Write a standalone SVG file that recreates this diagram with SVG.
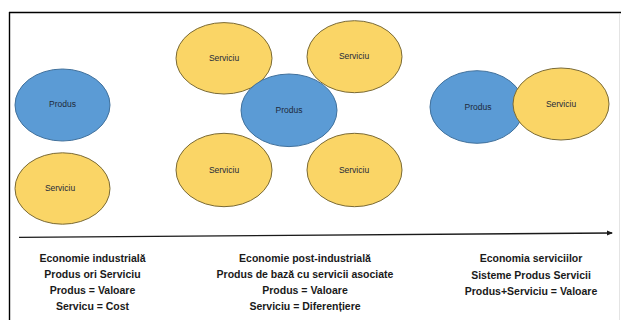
<svg xmlns="http://www.w3.org/2000/svg" width="621" height="320" viewBox="0 0 621 320">
<defs>
<style>
.prod{fill:#5B9BD5;stroke:#41719C;stroke-width:1}
.serv{fill:#FAD566;stroke:#7A6A35;stroke-width:1}
.lbl{font-family:"Liberation Sans",Arial,sans-serif;font-size:8.5px;fill:#1E2A3A;text-anchor:middle}
.cap{font-family:"Liberation Sans",Arial,sans-serif;font-size:10.5px;font-weight:bold;fill:#1a1a1a;text-anchor:middle}
</style>
<marker id="ah" markerWidth="6" markerHeight="6" refX="5" refY="3" orient="auto" markerUnits="userSpaceOnUse">
<path d="M0,0.5 L6,3 L0,5.5 Z" fill="#1a1a1a"/>
</marker>
</defs>
<rect x="0" y="0" width="621" height="320" fill="#ffffff"/>
<g id="frame">
<line x1="9" y1="12.5" x2="621" y2="12.5" stroke="#000" stroke-width="1.6"/>
<line x1="9.5" y1="12" x2="9.5" y2="320" stroke="#000" stroke-width="1.4"/>
<line x1="619.5" y1="14" x2="619.5" y2="320" stroke="#e4e4e4" stroke-width="1"/>
</g>
<g id="connectors">
<line x1="19" y1="237.3" x2="612" y2="233" stroke="#1a1a1a" stroke-width="1.3" marker-end="url(#ah)"/>
</g>
<g id="produs-1"><ellipse class="prod" cx="62.5" cy="105" rx="47.5" ry="36"/><text class="lbl" x="62.5" y="107">Produs</text></g>
<g id="serviciu-1"><ellipse class="serv" cx="62.5" cy="188.5" rx="47.5" ry="35.7"/><text class="lbl" x="60" y="191">Serviciu</text></g>
<g id="serviciu-2"><ellipse class="serv" cx="224" cy="58.3" rx="48" ry="35.7"/><text class="lbl" x="224" y="61">Serviciu</text></g>
<g id="serviciu-3"><ellipse class="serv" cx="354.5" cy="56.7" rx="47.5" ry="36"/><text class="lbl" x="354" y="59">Serviciu</text></g>
<g id="serviciu-4"><ellipse class="serv" cx="224" cy="170" rx="48" ry="36.7"/><text class="lbl" x="224" y="173">Serviciu</text></g>
<g id="serviciu-5"><ellipse class="serv" cx="354.5" cy="170" rx="47.5" ry="36.7"/><text class="lbl" x="354" y="173">Serviciu</text></g>
<g id="produs-2"><ellipse class="prod" cx="289" cy="110.3" rx="48" ry="36.3"/><text class="lbl" x="289" y="113">Produs</text></g>
<g id="produs-3"><ellipse class="prod" cx="477" cy="107" rx="47" ry="36.3"/><text class="lbl" x="478" y="110">Produs</text></g>
<g id="serviciu-6"><ellipse class="serv" cx="561" cy="104" rx="48" ry="36"/><text class="lbl" x="561" y="107">Serviciu</text></g>
<g id="caption-1">
<text class="cap" x="92.5" y="261.5">Economie industrială</text>
<text class="cap" x="92.5" y="277.5">Produs ori Serviciu</text>
<text class="cap" x="92.5" y="293.5">Produs = Valoare</text>
<text class="cap" x="92.5" y="309.5">Servicu = Cost</text>
</g>
<g id="caption-2">
<text class="cap" x="305" y="261.5">Economie post-industrială</text>
<text class="cap" x="305" y="277.5">Produs de bază cu servicii asociate</text>
<text class="cap" x="305" y="293.5">Produs = Valoare</text>
<text class="cap" x="305" y="309.5">Serviciu = Diferențiere</text>
</g>
<g id="caption-3">
<text class="cap" x="531" y="262">Economia serviciilor</text>
<text class="cap" x="531" y="279">Sisteme Produs Servicii</text>
<text class="cap" x="531" y="295">Produs+Serviciu = Valoare</text>
</g>
</svg>
